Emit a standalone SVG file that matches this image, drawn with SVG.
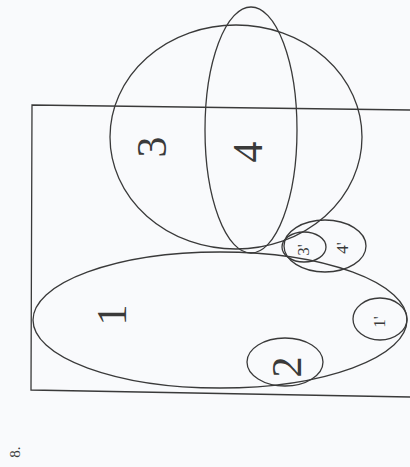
<svg xmlns="http://www.w3.org/2000/svg" width="410" height="467" viewBox="0 0 410 467">
<style>
.s{fill:none;stroke:#3a3a3a;stroke-width:1.3}
.t{font-family:"Liberation Serif","Times New Roman",serif;fill:#3a3a3a;text-anchor:middle;dominant-baseline:central}
</style>
<rect width="410" height="467" fill="#f9fafc"/>
<g id="frame"><path class="s" d="M411,110 L32,105 L31,390 L411,397"/></g>
<g id="region3"><ellipse class="s" cx="236" cy="137" rx="126" ry="112"/><text class="t" font-size="42" transform="translate(152,147) rotate(-90)">3</text></g>
<g id="region4"><ellipse class="s" cx="251" cy="130" rx="46" ry="123"/><text class="t" font-size="42" transform="translate(248,152) rotate(-90)">4</text></g>
<g id="region1"><ellipse class="s" cx="220" cy="320" rx="187" ry="68"/><text class="t" font-size="42" transform="translate(112,315) rotate(-90)">1</text></g>
<g id="region2"><ellipse class="s" cx="285" cy="362" rx="38" ry="24"/><text class="t" font-size="42" transform="translate(287,367) rotate(-90)">2</text></g>
<g id="region1p"><ellipse class="s" cx="380" cy="319" rx="27" ry="21"/><text class="t" font-size="17" transform="translate(379,322) rotate(-90)">1'</text></g>
<g id="region4p"><ellipse class="s" cx="325" cy="246" rx="41" ry="26"/><text class="t" font-size="17" transform="translate(342,248) rotate(-90)">4'</text></g>
<g id="region3p"><ellipse class="s" cx="304" cy="247" rx="22" ry="15"/><text class="t" font-size="17" transform="translate(303,250) rotate(-90)">3'</text></g>
<g id="label8"><text class="t" font-size="15" transform="translate(15,452) rotate(-90)">8.</text></g>
</svg>
